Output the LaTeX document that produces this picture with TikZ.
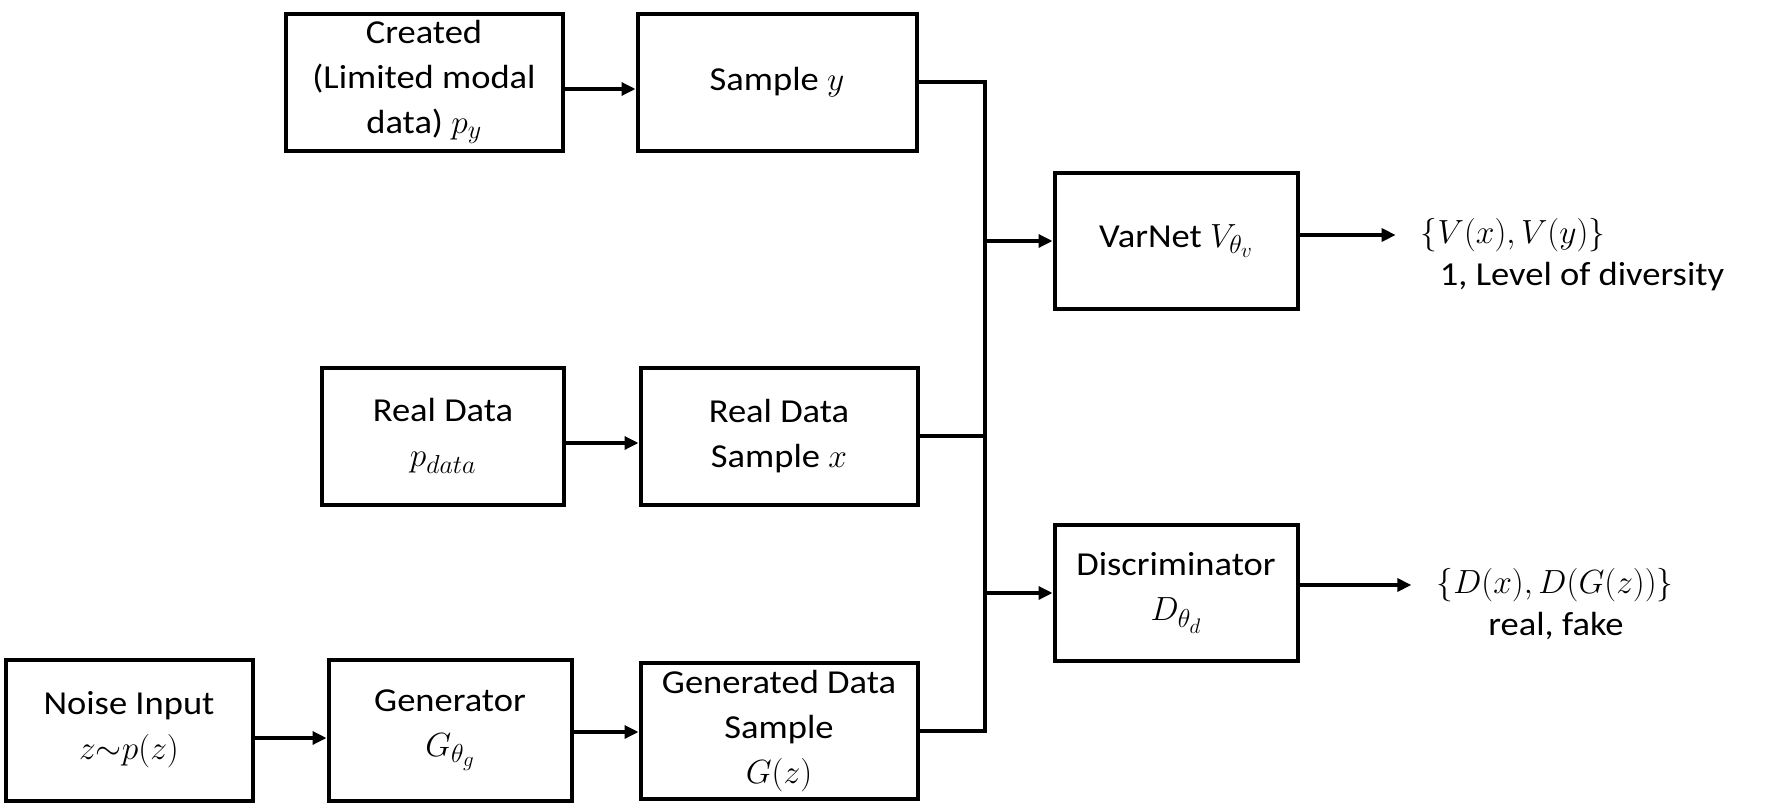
\documentclass[tikz,border=0pt]{standalone}
\usepackage{fix-cm}
\usepackage{amsfonts,amsmath}
\usepackage{xcolor}
\usepackage{fontspec}
\setmainfont{Carlito}[FakeStretch=1.09]
\DeclareMathSizes{33.5}{33.5}{26}{21}
\usepackage{tikz}
\usetikzlibrary{arrows.meta}

\tikzset{
  blk/.style={draw, line width=4pt, align=center, inner sep=0pt, minimum height=137pt},
  wire/.style={line width=3.3pt},
  arr/.style={line width=3.3pt, -{Triangle[length=14pt,width=13pt]}},
  lbl/.style={align=center, inner sep=0pt}
}

\begin{document}
\begin{tikzpicture}[x=1pt, y=-1pt, font=\fontsize{33.5}{45}\selectfont]
            \useasboundingbox (0,0) rectangle (1765,811);

            % left column
            \node [blk, minimum width=277pt] (CR) at (424,82) {Created\\(Limited modal\\data) $p_y$};
            \node [blk, minimum width=242pt] (RD) at (443,436) {Real Data\\$p_{data}$};
            \node [blk, minimum width=247pt, minimum height=141pt] (NI) at (129,730) {Noise Input\\$z{\sim}p(z)$};
            \node [blk, minimum width=243pt, minimum height=141pt] (GE) at (450,730) {Generator\\$G_{\theta_g}$};

            % samples
            \node [blk, minimum width=279pt] (SY) at (777,82) {Sample $y$};
            \node [blk, minimum width=277pt] (RS) at (779,436) {Real Data\\Sample $x$};
            \node [blk, minimum width=277pt, minimum height=136pt] (GS) at (779,731) {Generated Data\\Sample\\$G(z)$};

            % networks
            \node [blk, minimum width=243pt, minimum height=136pt] (VN) at (1176,241) {VarNet $V_{\theta_v}$};
            \node [blk, minimum width=243pt, minimum height=136pt] (DI) at (1176,593) {Discriminator\\$D_{\theta_d}$};

            % outputs
            \node [lbl] (VO) at (1513,235) {$\{V(x),V(y)\}$};
            \node [lbl] (VL) at (1582,277) {1, Level of diversity};
            \node [lbl] (DO) at (1555,585) {$\{D(x),D(G(z))\}$};
            \node [lbl] (DL) at (1556,626) {real, fake};

            \coordinate (BT) at (985,82);
            \coordinate (BB) at (985,731);

            \draw [arr] ([yshift=-7pt]CR.east) -- ([yshift=-7pt]CR.east -| SY.west);
            \draw [arr] ([yshift=-7pt]RD.east) -- ([yshift=-7pt]RD.east -| RS.west);
            \draw [arr] ([yshift=-8pt]NI.east) -- ([yshift=-8pt]NI.east -| GE.west);
            \draw [arr] ([yshift=-2pt]GE.east) -- ([yshift=-2pt]GE.east -| GS.west);

            \draw [wire] (SY.east) -- (BT) -- (BB) -- (GS.east);
            \draw [wire] (RS.east) -- (RS.east -| BT);
            \draw [arr] (VN.west -| BT) -- (VN.west);
            \draw [arr] (DI.west -| BT) -- (DI.west);

            \draw [arr, shorten >=25pt] (VN.east |- VO.west) -- (VO.west);
            \draw [arr, shorten >=25pt] (DI.east |- DO.west) -- (DO.west);
        \end{tikzpicture}
\end{document}
